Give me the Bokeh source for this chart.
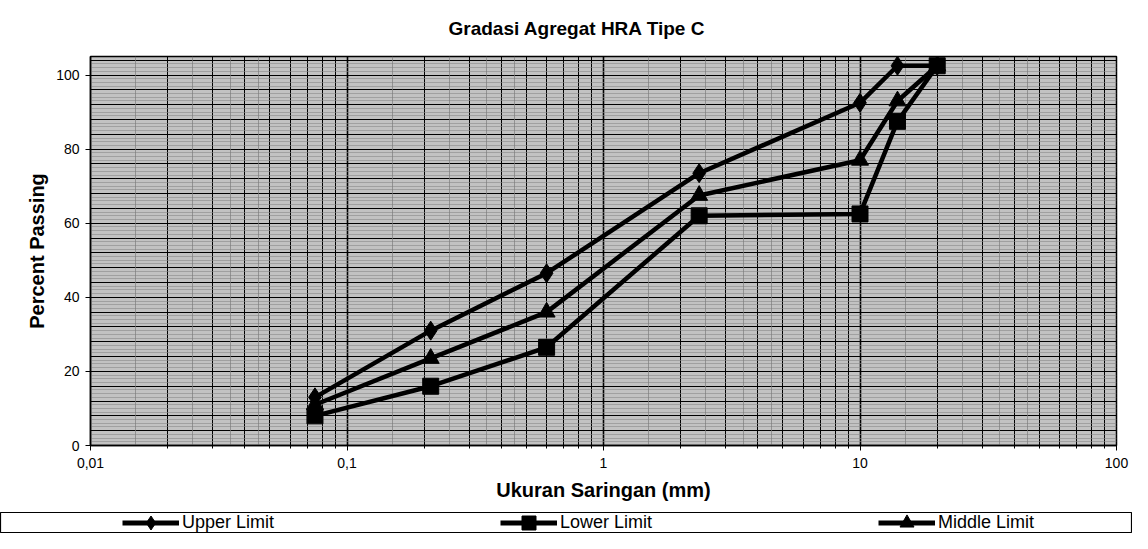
from bokeh.plotting import figure
from bokeh.models import FixedTicker, Grid, Range1d, Legend, LegendItem, Title
from bokeh.layouts import column
from bokeh.embed import file_html
from bokeh.resources import INLINE

# ---- data ----
sieve_mm = [0.075, 0.212, 0.6, 2.36, 10, 14, 20]
upper_limit = [13, 31, 46.5, 73.5, 92.5, 102.5, 102.5]
lower_limit = [8, 16, 26.5, 62, 62.5, 87.5, 102.5]
middle_limit = [11, 23.5, 36, 67.5, 77, 93, 102.5]

x_tick_values = [0.01, 0.1, 1, 10, 100]
x_tick_labels = ["0,01", "0,1", "1", "10", "100"]
y_tick_values = [0, 20, 40, 60, 80, 100]

FONT = "Liberation Sans"

# minor log grid positions (2..9 per decade) and finer half-steps
x_minor = [k * d for d in x_tick_values[:-1] for k in range(2, 10)]
x_fine = [k * d for d in x_tick_values[:-1] for k in (1.5, 2.5, 3.5, 4.5)]
y_grid_major = list(range(0, 105, 4))
y_grid_minor = [v for v in range(0, 106) if v % 4 != 0]

p = figure(
    x_axis_type="log",
    x_range=Range1d(0.01, 100),
    y_range=Range1d(0, 105),
    frame_width=1026, frame_height=389,
    min_border_left=90, min_border_right=16,
    min_border_top=56, min_border_bottom=67,
    toolbar_location=None, output_backend="svg",
    background_fill_color="#c2c2c2",
    outline_line_color="black", outline_line_width=1.5,
)
p.frame_align = False

title = Title(text="Gradasi Agregat HRA Tipe C", align="left", offset=358,
              vertical_align="top", standoff=31,
              text_font=FONT, text_font_size="19px", text_font_style="bold",
              text_color="black")
p.add_layout(title, "above")

# grids
p.xgrid.ticker = FixedTicker(ticks=x_tick_values, minor_ticks=x_minor)
p.xgrid.grid_line_color = "black"
p.xgrid.grid_line_width = 1.6
p.xgrid.minor_grid_line_color = "black"
p.xgrid.minor_grid_line_width = 1

p.ygrid.ticker = FixedTicker(ticks=y_grid_major, minor_ticks=y_grid_minor)
p.ygrid.grid_line_color = "black"
p.ygrid.grid_line_width = 1.2
p.ygrid.minor_grid_line_color = "#8a8a8a"
p.ygrid.minor_grid_line_width = 0.6

fine_grid = Grid(dimension=0, ticker=FixedTicker(ticks=x_fine),
                 grid_line_color="#7c7c7c", grid_line_width=0.7)
p.add_layout(fine_grid)

# axes
p.xaxis.ticker = FixedTicker(ticks=x_tick_values, minor_ticks=x_minor)
p.xaxis.major_label_overrides = {v: l for v, l in zip(x_tick_values, x_tick_labels)}
p.xaxis.axis_label = "Ukuran Saringan (mm)"
p.yaxis.ticker = FixedTicker(ticks=y_tick_values)
p.yaxis.axis_label = "Percent Passing"

for ax in (p.xaxis[0], p.yaxis[0]):
    ax.axis_line_color = "black"
    ax.axis_line_width = 1.5
    ax.major_tick_line_color = "black"
    ax.major_tick_in = 0
    ax.major_tick_out = 5
    ax.minor_tick_line_color = "black"
    ax.minor_tick_in = 0
    ax.minor_tick_out = 3
    ax.major_label_text_font = FONT
    ax.major_label_text_font_size = "14px"
    ax.major_label_text_color = "black"
    ax.axis_label_text_font = FONT
    ax.axis_label_text_font_style = "bold"
    ax.axis_label_text_color = "black"
    ax.axis_label_text_font_size = "20px"

p.xaxis.major_label_standoff = 7
p.xaxis.axis_label_standoff = 8
p.yaxis.major_label_standoff = 6
p.yaxis.axis_label_standoff = 5
p.yaxis.minor_tick_line_color = None

series = [
    ("Upper Limit", upper_limit, "diamond", 19),
    ("Lower Limit", lower_limit, "square", 16),
    ("Middle Limit", middle_limit, "triangle", 17),
]

for name, vals, marker, size in series:
    p.line(sieve_mm, vals, line_color="black", line_width=4.5)
    p.scatter(sieve_mm, vals, marker=marker, size=size,
              fill_color="black", line_color="black")

# ---- legend strip below the chart ----
p2 = figure(width=1132, height=21, x_range=Range1d(0, 1), y_range=Range1d(0, 1),
            toolbar_location=None, output_backend="svg",
            min_border_left=0, min_border_right=0, min_border_top=0, min_border_bottom=0,
            x_axis_location=None, y_axis_location=None,
            outline_line_color="black", outline_line_width=1.2,
            background_fill_color="white")
p2.frame_align = False
p2.grid.visible = False

items = []
for name, vals, marker, size in series:
    # same series drawn into the legend strip (falls outside its frame, only the legend glyph shows)
    rl = p2.line(sieve_mm, vals, line_color="black", line_width=5)
    rs = p2.scatter(sieve_mm, vals, marker=marker, size=size,
                    fill_color="black", line_color="black")
    items.append(LegendItem(label=name, renderers=[rl, rs]))

legend = Legend(items=items, orientation="horizontal", location=(122, -7),
                glyph_width=57, glyph_height=35, label_standoff=3,
                label_width=285, label_height=35, spacing=33, padding=0, margin=0,
                label_text_font=FONT, label_text_font_size="18px",
                label_text_color="black",
                border_line_color=None, background_fill_alpha=0)
p2.add_layout(legend, "center")

layout = column(p, p2, spacing=0)

open("out.html", "w").write(file_html(layout, INLINE))
